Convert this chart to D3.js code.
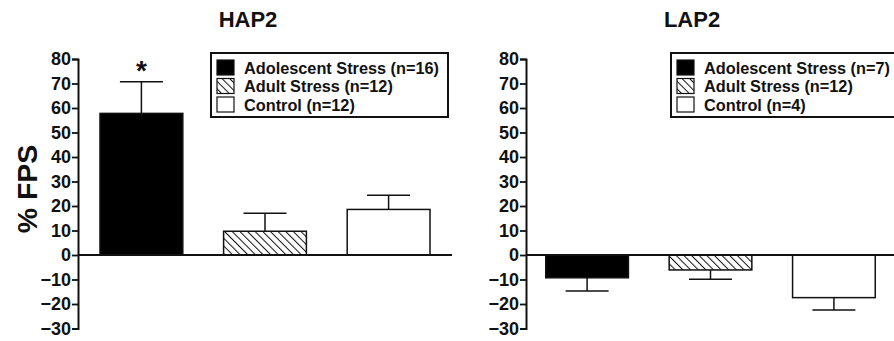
<!DOCTYPE html>
<html>
<head>
<meta charset="utf-8">
<script src="https://cdn.jsdelivr.net/npm/d3@7"></script>
<style>
  body { margin: 0; background: #fff; }
  svg { display: block; font-family: "Liberation Sans", Arial, sans-serif; font-weight: bold; }
</style>
</head>
<body>
<svg id="svg"></svg>
<script>
// groups (same order in both panels)
var groups = ['Adolescent Stress', 'Adult Stress', 'Control'];

// HAP2 means and SEM
var hapMeans = [57.8, 9.7, 18.6];
var hapErr = [12.9, 7.3, 5.8];
var hapN = [16, 12, 12];

// LAP2 means and SEM
var lapMeans = [-9.3, -6.1, -17.4];
var lapErr = [5.4, 3.8, 5.0];
var lapN = [7, 12, 4];

var yTicks = [-30, -20, -10, 0, 10, 20, 30, 40, 50, 60, 70, 80];

var W = 894, H = 341;
var svg = d3.select('#svg').attr('width', W).attr('height', H);

// hatch pattern for adult stress (lines running top-left to bottom-right)
var hatch = svg.append('defs').append('pattern')
  .attr('id', 'hatch')
  .attr('patternUnits', 'userSpaceOnUse')
  .attr('width', 5.4)
  .attr('height', 5.4)
  .attr('patternTransform', 'rotate(-45)');
hatch.append('rect').attr('width', 5.4).attr('height', 5.4).attr('fill', '#fff');
hatch.append('line')
  .attr('x1', 0).attr('y1', 0).attr('x2', 0).attr('y2', 5.4)
  .attr('stroke', '#111').attr('stroke-width', 2);

var fills = ['#000', 'url(#hatch)', '#fff'];

var y = d3.scaleLinear().domain([-30, 80]).range([328.5, 59]);

function panel(opt) {
  var g = svg.append('g');

  var x = d3.scaleBand()
    .domain(groups)
    .range([opt.x0, opt.x1])
    .paddingInner(0.33)
    .paddingOuter(opt.po);

  // title
  g.append('text')
    .attr('x', opt.titleX).attr('y', 27)
    .attr('text-anchor', 'middle')
    .attr('font-size', 22)
    .attr('fill', '#111')
    .text(opt.title);

  // bars
  g.selectAll('rect.bar')
    .data(opt.means)
    .enter()
    .append('rect')
    .attr('class', 'bar')
    .attr('x', function (d, i) { return x(groups[i]); })
    .attr('width', x.bandwidth())
    .attr('y', function (d) { return y(Math.max(d, 0)); })
    .attr('height', function (d) { return Math.abs(y(d) - y(0)); })
    .attr('fill', function (d, i) { return fills[i]; })
    .attr('stroke', '#111')
    .attr('stroke-width', 1.5);

  // error bars (one-sided, away from zero)
  opt.means.forEach(function (m, i) {
    var cx = x(groups[i]) + x.bandwidth() / 2;
    var tip = m >= 0 ? m + opt.err[i] : m - opt.err[i];
    g.append('line')
      .attr('x1', cx).attr('x2', cx)
      .attr('y1', y(m)).attr('y2', y(tip))
      .attr('stroke', '#111').attr('stroke-width', 1.5);
    g.append('line')
      .attr('x1', cx - 21.5).attr('x2', cx + 21.5)
      .attr('y1', y(tip)).attr('y2', y(tip))
      .attr('stroke', '#111').attr('stroke-width', 1.5);
  });

  // zero line
  g.append('line')
    .attr('x1', opt.axisX).attr('x2', opt.zeroEnd)
    .attr('y1', y(0)).attr('y2', y(0))
    .attr('stroke', '#111').attr('stroke-width', 1.8);

  // y axis
  var ax = g.append('g')
    .attr('transform', 'translate(' + opt.axisX + ',0)')
    .call(d3.axisLeft(y).tickValues(yTicks).tickSize(6).tickSizeOuter(6).tickPadding(1));
  ax.select('.domain').attr('stroke', '#111').attr('stroke-width', 2);
  ax.selectAll('.tick line').attr('stroke', '#111').attr('stroke-width', 1.8);
  ax.selectAll('.tick text')
    .attr('font-family', '"Liberation Sans", Arial, sans-serif')
    .attr('font-weight', 'bold')
    .attr('font-size', 18)
    .attr('fill', '#111');

  // legend
  var lg = g.append('g').attr('transform', 'translate(' + opt.legX + ',53)');
  lg.append('rect')
    .attr('width', opt.legW).attr('height', 64)
    .attr('fill', '#fff').attr('stroke', '#111').attr('stroke-width', 2);
  groups.forEach(function (name, i) {
    lg.append('rect')
      .attr('x', 6).attr('y', 7 + i * 18.5)
      .attr('width', 17).attr('height', 15)
      .attr('fill', fills[i]).attr('stroke', '#111').attr('stroke-width', 1.2);
    lg.append('text')
      .attr('x', 33).attr('y', 20.5 + i * 18.5)
      .attr('font-size', 16.3)
      .attr('fill', '#111')
      .text(name + ' (n=' + opt.n[i] + ')');
  });

  return { g: g, x: x };
}

var left = panel({
  title: 'HAP2', titleX: 248,
  means: hapMeans, err: hapErr, n: hapN,
  x0: 78, x1: 452, po: 0.178, axisX: 78, zeroEnd: 452,
  legX: 211, legW: 237
});

// significance marker
left.g.append('text')
  .attr('x', left.x(groups[0]) + left.x.bandwidth() / 2)
  .attr('y', y(hapMeans[0] + hapErr[0]) - 2)
  .attr('text-anchor', 'middle')
  .attr('font-size', 28)
  .attr('fill', '#111')
  .text('*');

panel({
  title: 'LAP2', titleX: 692,
  means: lapMeans, err: lapErr, n: lapN,
  x0: 526, x1: 895, po: 0.16, axisX: 526, zeroEnd: 894,
  legX: 671, legW: 240
});

// y label
svg.append('text')
  .attr('transform', 'translate(37,189) rotate(-90)')
  .attr('text-anchor', 'middle')
  .attr('font-size', 28.5)
  .attr('fill', '#111')
  .text('% FPS');
</script>
</body>
</html>
